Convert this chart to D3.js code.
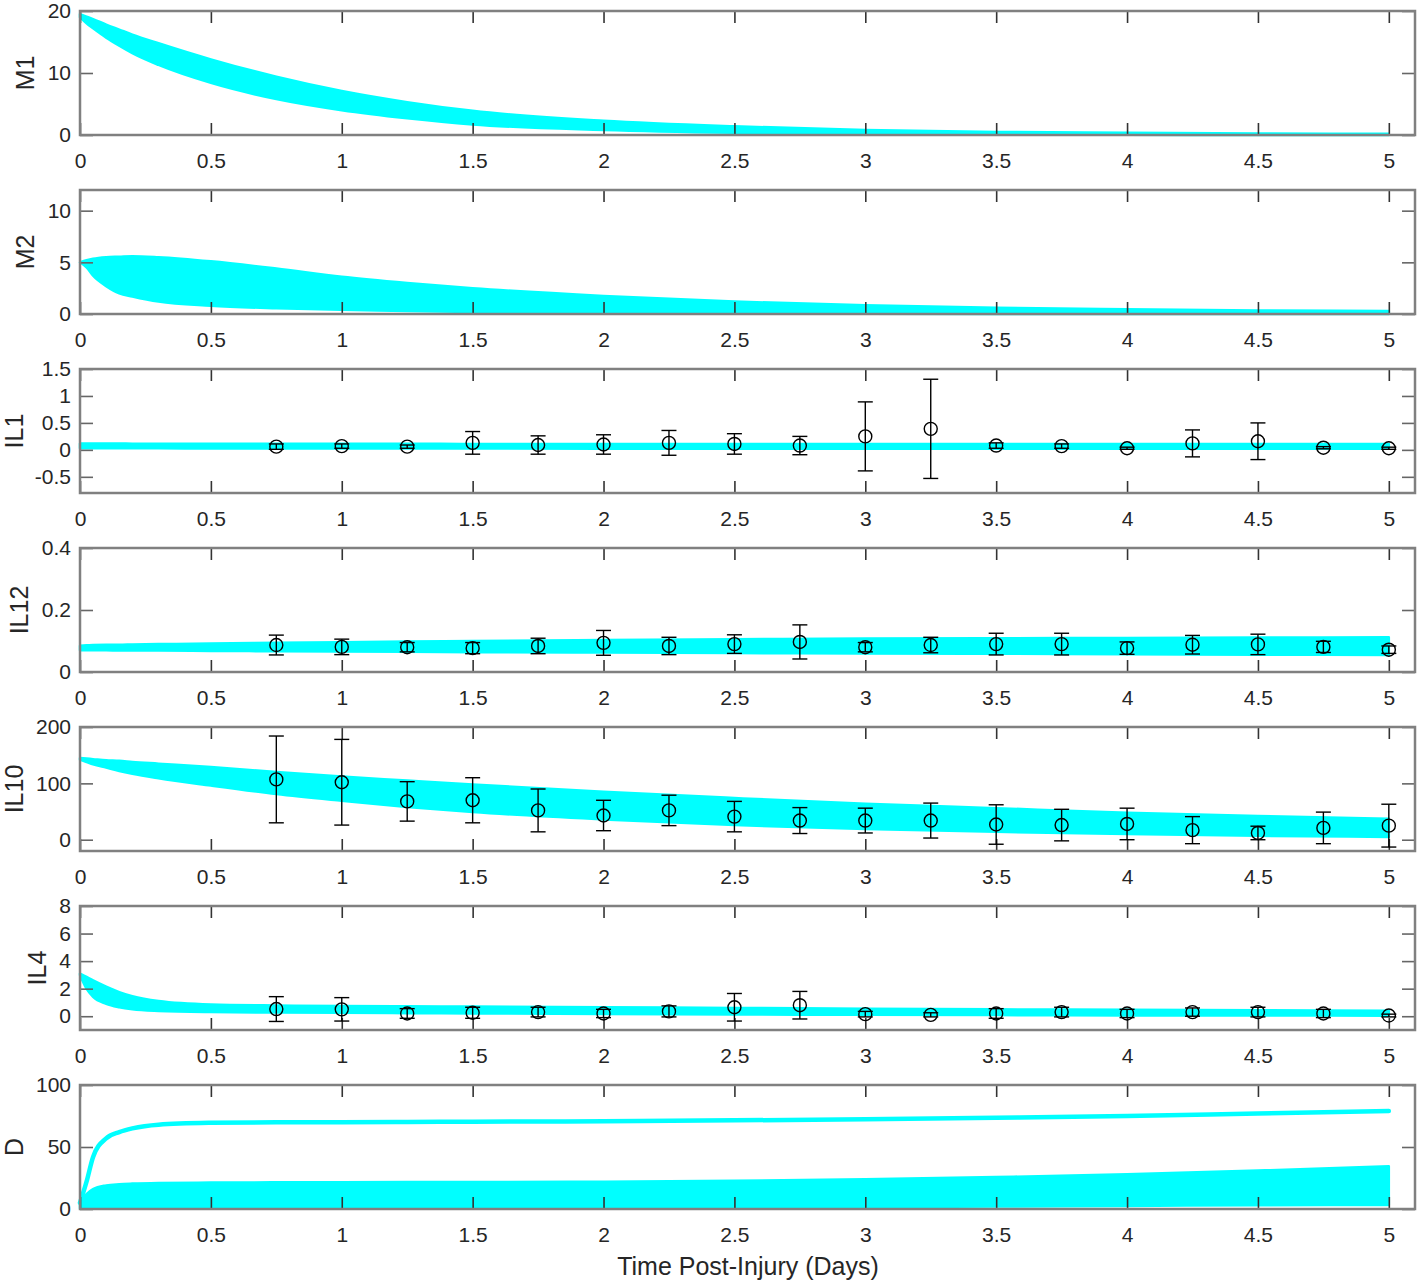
<!DOCTYPE html>
<html>
<head>
<meta charset="utf-8">
<script src="https://cdn.jsdelivr.net/npm/d3@7"></script>
<style>
  body { margin: 0; background: #fff; }
  svg text { font-family: "Liberation Sans", Arial, sans-serif; fill: #262626; }
</style>
</head>
<body>
<svg id="chart" width="1418" height="1284"></svg>
<script>
// time grid used by the simulated bands
var bandTimes = [0, 0.025, 0.05, 0.1, 0.15, 0.2, 0.3, 0.5, 0.75, 1, 1.25, 1.5, 2, 2.5, 3, 3.5, 4, 4.5, 5];

var m1Upper = [19.5, 19.1, 18.7, 17.8, 17.0, 16.2, 14.8, 12.2, 9.4, 7.1, 5.3, 3.9, 2.3, 1.4, 0.8, 0.5, 0.35, 0.25, 0.2];
var m1Lower = [19, 18.0, 17.2, 15.7, 14.4, 13.2, 11.3, 8.4, 5.8, 4.0, 2.7, 1.7, 0.8, 0.35, 0.15, 0.06, 0.03, 0.01, 0];

var m2Upper = [5, 5.2, 5.35, 5.5, 5.55, 5.6, 5.5, 5.1, 4.4, 3.6, 3.0, 2.5, 1.75, 1.2, 0.85, 0.6, 0.45, 0.35, 0.3];
var m2Lower = [5, 4.5, 3.7, 2.7, 2.0, 1.7, 1.2, 0.8, 0.55, 0.4, 0.3, 0.2, 0.08, 0.04, 0.02, 0.01, 0, 0, 0];

var il1Upper = [0.12, 0.12, 0.12, 0.12, 0.12, 0.115, 0.115, 0.115, 0.115, 0.115, 0.115, 0.11, 0.11, 0.11, 0.11, 0.11, 0.11, 0.11, 0.11];
var il1Lower = [0.03, 0.03, 0.03, 0.03, 0.03, 0.03, 0.03, 0.025, 0.025, 0.025, 0.025, 0.025, 0.02, 0.02, 0.02, 0.02, 0.02, 0.02, 0.02];

var il12Upper = [0.085, 0.086, 0.087, 0.088, 0.088, 0.089, 0.09, 0.092, 0.094, 0.096, 0.098, 0.1, 0.103, 0.106, 0.108, 0.109, 0.11, 0.111, 0.112];
var il12Lower = [0.07, 0.07, 0.07, 0.07, 0.069, 0.069, 0.069, 0.068, 0.067, 0.066, 0.065, 0.064, 0.063, 0.061, 0.06, 0.059, 0.057, 0.056, 0.055];

var il10Upper = [145, 144, 143, 141, 140, 138, 135, 129, 120, 112, 105, 98, 85, 74, 64, 56, 48, 42, 37];
var il10Lower = [142, 138, 134, 128, 122, 117, 109, 96, 81, 69, 58, 49, 36, 26, 19, 14, 10, 7, 5];

var il4Upper = [3.1, 2.85, 2.6, 2.15, 1.75, 1.45, 1.1, 0.85, 0.78, 0.75, 0.72, 0.7, 0.65, 0.6, 0.55, 0.5, 0.47, 0.44, 0.4];
var il4Lower = [3.0, 2.0, 1.4, 0.9, 0.65, 0.5, 0.38, 0.3, 0.27, 0.25, 0.22, 0.2, 0.16, 0.13, 0.1, 0.08, 0.06, 0.05, 0.04];

var dUpper = [5, 12, 16, 19, 20, 20.5, 21, 21.3, 21.5, 21.6, 21.7, 21.8, 22, 22.8, 24, 25.8, 28, 31, 34.5];
var dLower = [0.5, 0.8, 1, 1, 1, 1, 1, 1, 1, 1, 1, 1, 1.1, 1.2, 1.5, 2, 2.5, 3, 3.3];
var dHigh = [5, 22, 42, 57, 62, 65, 68, 69.5, 70, 70, 70.2, 70.4, 70.8, 71.5, 72.3, 73.5, 75, 77, 79];

// measured cytokine data (mean and error bar half-width)
var obsTimes = [0.75, 1, 1.25, 1.5, 1.75, 2, 2.25, 2.5, 2.75, 3, 3.25, 3.5, 3.75, 4, 4.25, 4.5, 4.75, 5];
var il1Mean = [0.06, 0.07, 0.06, 0.13, 0.09, 0.1, 0.13, 0.11, 0.08, 0.25, 0.39, 0.08, 0.07, 0.03, 0.12, 0.16, 0.04, 0.03];
var il1Err = [0.05, 0.04, 0.03, 0.21, 0.17, 0.18, 0.23, 0.19, 0.17, 0.64, 0.92, 0.05, 0.04, 0.02, 0.25, 0.34, 0.02, 0.02];
var il12Mean = [0.087, 0.081, 0.08, 0.077, 0.084, 0.094, 0.084, 0.09, 0.097, 0.08, 0.087, 0.09, 0.09, 0.077, 0.088, 0.089, 0.081, 0.072];
var il12Err = [0.032, 0.025, 0.015, 0.018, 0.025, 0.04, 0.028, 0.03, 0.055, 0.015, 0.025, 0.035, 0.035, 0.02, 0.03, 0.033, 0.018, 0.012];
var il10Mean = [107, 102, 68, 70, 52, 43, 52, 41, 34, 34, 34, 27, 26, 28, 17, 12, 21, 25];
var il10Err = [77, 76, 35, 40, 38, 27, 27, 27, 23, 22, 31, 35, 28, 28, 24, 12, 28, 38];
var il4Mean = [0.52, 0.5, 0.2, 0.25, 0.3, 0.2, 0.35, 0.65, 0.8, 0.15, 0.1, 0.2, 0.3, 0.2, 0.3, 0.3, 0.2, 0.05];
var il4Err = [0.9, 0.85, 0.35, 0.4, 0.35, 0.3, 0.4, 1.0, 1.0, 0.2, 0.15, 0.35, 0.35, 0.3, 0.3, 0.35, 0.3, 0.1];

var xTicks = [0, 0.5, 1, 1.5, 2, 2.5, 3, 3.5, 4, 4.5, 5];
var xTitle = "Time Post-Injury (Days)";

var panels = [
  { name: "M1", domain: [0, 20], ticks: [0, 10, 20], upper: m1Upper, lower: m1Lower, labelX: 25 },
  { name: "M2", domain: [0, 12], ticks: [0, 5, 10], upper: m2Upper, lower: m2Lower, labelX: 25 },
  { name: "IL1", domain: [-0.8, 1.5], ticks: [-0.5, 0, 0.5, 1, 1.5], upper: il1Upper, lower: il1Lower, mean: il1Mean, err: il1Err, labelX: 14 },
  { name: "IL12", domain: [0, 0.4], ticks: [0, 0.2, 0.4], upper: il12Upper, lower: il12Lower, mean: il12Mean, err: il12Err, labelX: 19 },
  { name: "IL10", domain: [-20, 200], ticks: [0, 100, 200], upper: il10Upper, lower: il10Lower, mean: il10Mean, err: il10Err, labelX: 14 },
  { name: "IL4", domain: [-1, 8], ticks: [0, 2, 4, 6, 8], upper: il4Upper, lower: il4Lower, mean: il4Mean, err: il4Err, labelX: 37 },
  { name: "D", domain: [0, 100], ticks: [0, 50, 100], upper: dUpper, lower: dLower, high: dHigh, labelX: 14 }
];

var svg = d3.select("#chart");
var left = 80, right = 1415, panelH = 124, step = 179, top0 = 11;
var cyan = "#00ffff";

var x = d3.scaleLinear().domain([0, 5.1]).range([left, right]);

panels.forEach(function(p, i) {
  var top = top0 + i * step, bottom = top + panelH;
  var y = d3.scaleLinear().domain(p.domain).range([bottom, top]);
  var g = svg.append("g");

  var rows = bandTimes.map(function(t, k) { return { t: t, lo: p.lower[k], hi: p.upper[k] }; });
  var area = d3.area()
    .x(function(d) { return x(d.t); })
    .y0(function(d) { return y(d.lo); })
    .y1(function(d) { return y(d.hi); })
    .curve(d3.curveMonotoneX);
  g.append("path").datum(rows).attr("d", area)
    .attr("fill", cyan).attr("stroke", cyan).attr("stroke-width", 2.5).attr("stroke-linejoin", "round");

  if (p.high) {
    var line = d3.line()
      .x(function(d, k) { return x(bandTimes[k]); })
      .y(function(d) { return y(d); })
      .curve(d3.curveMonotoneX);
    g.append("path").datum(p.high).attr("d", line)
      .attr("fill", "none").attr("stroke", cyan).attr("stroke-width", 4.5).attr("stroke-linecap", "round");
  }

  // axes: ticks point inward on all four sides
  var fmt = function(d) { return String(d); };
  var bx = g.append("g").attr("transform", "translate(0," + bottom + ")")
    .call(d3.axisBottom(x).tickValues(xTicks).tickSize(-12).tickPadding(18).tickFormat(fmt));
  var tx = g.append("g").attr("transform", "translate(0," + top + ")")
    .call(d3.axisTop(x).tickValues(xTicks).tickSize(-12).tickFormat(""));
  var ly = g.append("g").attr("transform", "translate(" + left + ",0)")
    .call(d3.axisLeft(y).tickValues(p.ticks).tickSize(-13).tickPadding(9).tickFormat(fmt));
  var ry = g.append("g").attr("transform", "translate(" + right + ",0)")
    .call(d3.axisRight(y).tickValues(p.ticks).tickSize(-13).tickFormat(""));
  [bx, tx, ly, ry].forEach(function(a) {
    a.select(".domain").remove();
    a.selectAll("line").attr("stroke", "#333").attr("stroke-width", 1.6);
    a.selectAll("text").style("font-size", "21px").attr("fill", "#262626");
  });
  ly.selectAll("line").attr("stroke", "#666");
  ry.selectAll("line").attr("stroke", "#666");

  g.append("rect").attr("x", left).attr("y", top)
    .attr("width", right - left).attr("height", panelH)
    .attr("fill", "none").attr("stroke", "#808080").attr("stroke-width", 2.5);

  g.append("text")
    .attr("transform", "translate(" + p.labelX + "," + (top + panelH / 2) + ") rotate(-90)")
    .attr("text-anchor", "middle").attr("dy", "0.35em")
    .style("font-size", "25px").text(p.name);

  if (p.mean) {
    var pts = obsTimes.map(function(t, k) { return { t: t, m: p.mean[k], e: p.err[k] }; });
    var eg = g.append("g").attr("stroke", "#000").attr("stroke-width", 1.4).attr("fill", "none");
    var bars = eg.selectAll("g.eb").data(pts).enter().append("g").attr("class", "eb");
    bars.append("line")
      .attr("x1", function(d) { return x(d.t); }).attr("x2", function(d) { return x(d.t); })
      .attr("y1", function(d) { return y(d.m - d.e); }).attr("y2", function(d) { return y(d.m + d.e); });
    bars.append("line")
      .attr("x1", function(d) { return x(d.t) - 7.5; }).attr("x2", function(d) { return x(d.t) + 7.5; })
      .attr("y1", function(d) { return y(d.m + d.e); }).attr("y2", function(d) { return y(d.m + d.e); });
    bars.append("line")
      .attr("x1", function(d) { return x(d.t) - 7.5; }).attr("x2", function(d) { return x(d.t) + 7.5; })
      .attr("y1", function(d) { return y(d.m - d.e); }).attr("y2", function(d) { return y(d.m - d.e); });
    bars.append("circle")
      .attr("cx", function(d) { return x(d.t); }).attr("cy", function(d) { return y(d.m); })
      .attr("r", 6.5);
  }
});

svg.append("text")
  .attr("x", 748).attr("y", 1275)
  .attr("text-anchor", "middle")
  .style("font-size", "25px")
  .text(xTitle);
</script>
</body>
</html>
